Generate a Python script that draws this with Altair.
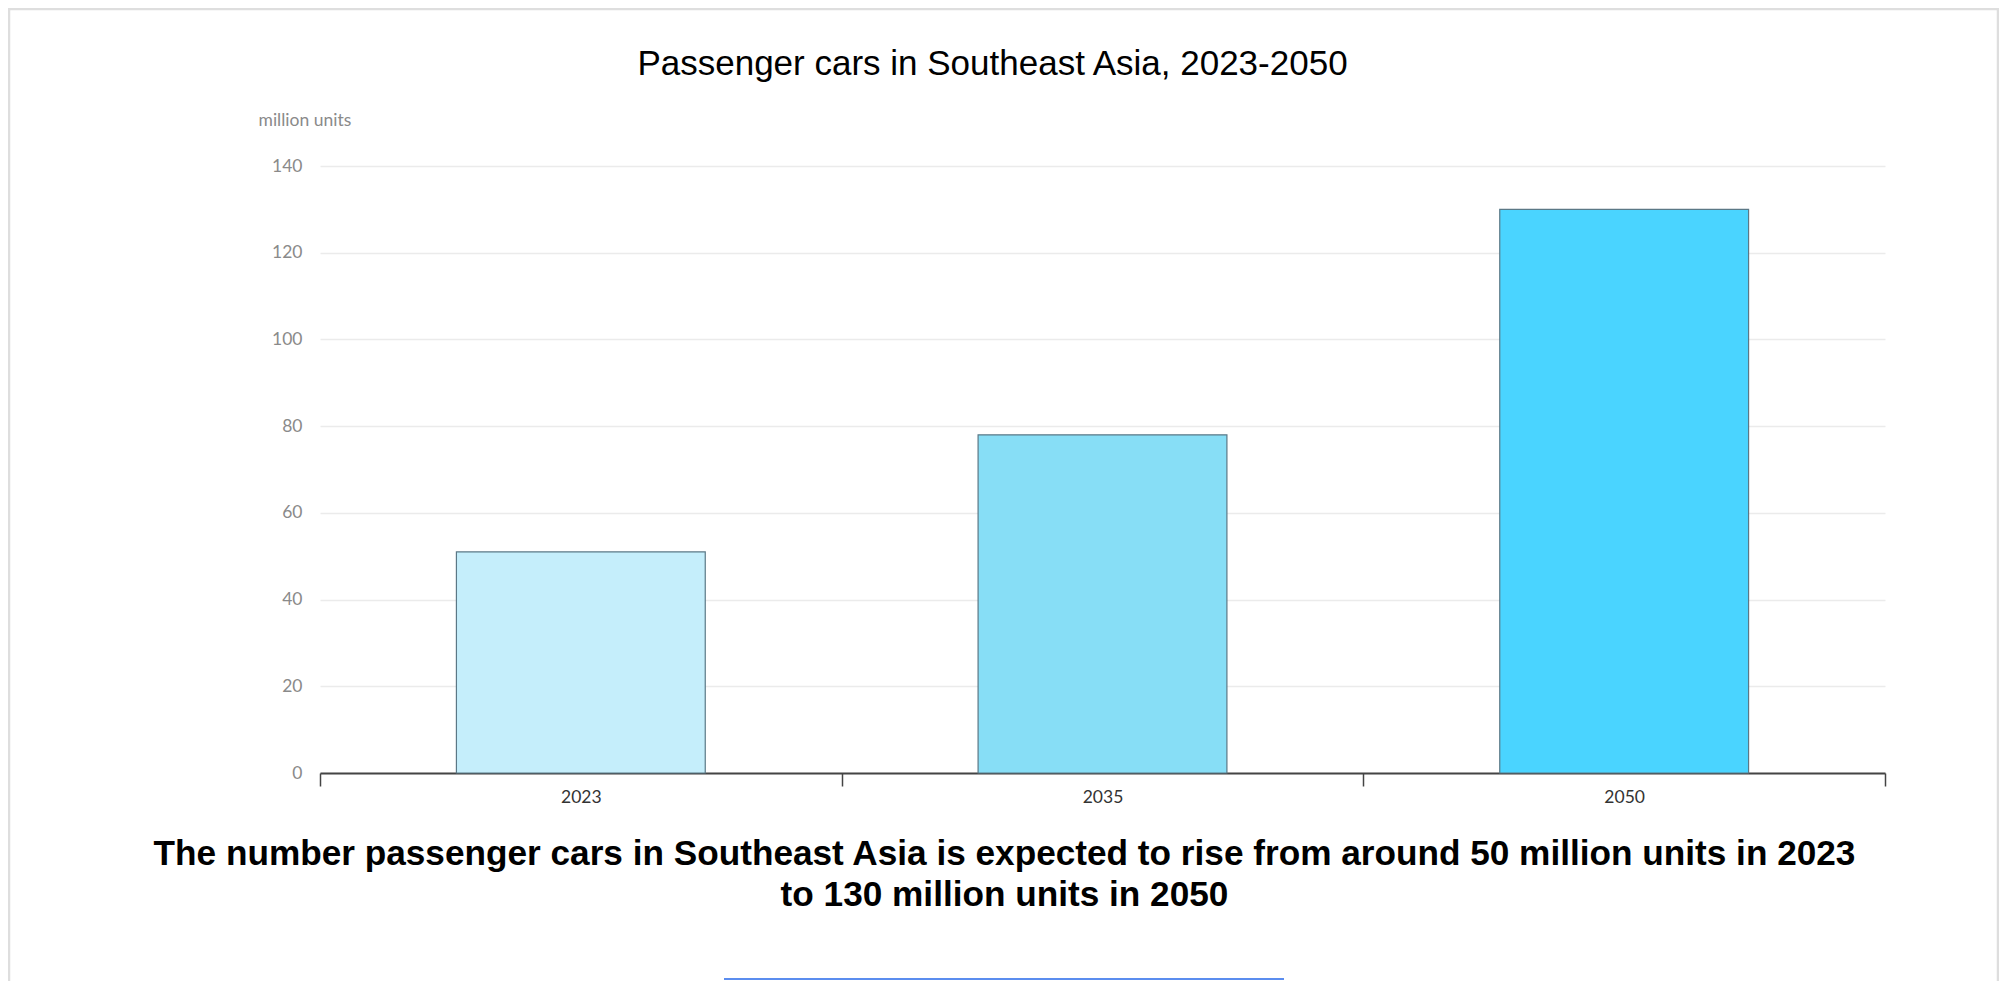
import altair as alt
import pandas as pd

years = ["2023", "2035", "2050"]
cars = [51, 78, 130]
colors = ["#C5EEFB", "#87DEF6", "#4AD4FF"]
y_ticks = [0, 20, 40, 60, 80, 100, 120, 140]

title_text = "Passenger cars in Southeast Asia, 2023-2050"
caption_lines = [
    "The number passenger cars in Southeast Asia is expected to rise from around 50 million units in 2023",
    "to 130 million units in 2050",
]
unit_label = "million units"

df = pd.DataFrame({"year": years, "cars": cars})

W, H = 1565, 607
AX_FONT = "Lato"
HEAD_FONT = "Liberation Sans"

bars = alt.Chart(df).mark_bar(
    width=alt.RelativeBandSize(0.477), stroke="#5b7886", strokeWidth=1.2
).encode(
    x=alt.X(
        "year:N", sort=years,
        scale=alt.Scale(paddingInner=0, paddingOuter=0),
        axis=alt.Axis(
            title=caption_lines, titleFont=HEAD_FONT, titleFontSize=35.2,
            titleFontWeight="bold", titleColor="#000000", titleX=684, titleY=91,
            titleAlign="center", titleBaseline="alphabetic", titleLineHeight=41,
            labelAngle=0, labelFont=AX_FONT, labelFontSize=17.5, labelColor="#333333",
            labelPadding=2, tickBand="extent", tickSize=13, tickColor="#444444",
            tickWidth=1.5, domainColor="#444444", domainWidth=2, grid=False,
        ),
    ),
    y=alt.Y(
        "cars:Q", scale=alt.Scale(domain=[0, 140], nice=False),
        axis=alt.Axis(
            values=y_ticks, title=unit_label, titleAngle=0, titleX=-62, titleY=-41,
            titleAlign="left", titleBaseline="alphabetic", titleFont=AX_FONT,
            titleFontSize=17.5, titleFontWeight="normal", titleColor="#8a8a8a",
            labelFont=AX_FONT, labelFontSize=17.5, labelColor="#8a8a8a", labelPadding=18,
            ticks=False, domain=False, gridColor="#ebebeb", gridWidth=1.5,
        ),
    ),
    color=alt.Color("year:N", scale=alt.Scale(domain=years, range=colors), legend=None),
)

# page decorations: light frame and the cut-off blue line at the bottom
one = alt.Data(values=[{"k": 1}])
frame = alt.Chart(one).mark_rect(
    fill=None, stroke="#dedede", strokeWidth=2.5
).encode(
    x=alt.value(-311), x2=alt.value(1678), y=alt.value(-157), y2=alt.value(840)
)
blue = alt.Chart(one).mark_rule(color="#5b8def", strokeWidth=2).encode(
    x=alt.value(404), x2=alt.value(964), y=alt.value(813)
)

chart = alt.layer(bars, frame, blue).properties(
    width=W, height=H,
    autosize=alt.AutoSizeParams(type="none"),
    padding={"left": 312, "top": 158, "right": 114, "bottom": 208},
    title=alt.Title(
        title_text, font=HEAD_FONT, fontSize=35, fontWeight="normal", color="#000000",
        anchor="middle", frame="group", dx=-110, dy=105, baseline="alphabetic", offset=3,
    ),
).configure(background="#ffffff").configure_view(stroke=None)

chart.save("out.html", embed_options={"renderer": "svg", "actions": False})
